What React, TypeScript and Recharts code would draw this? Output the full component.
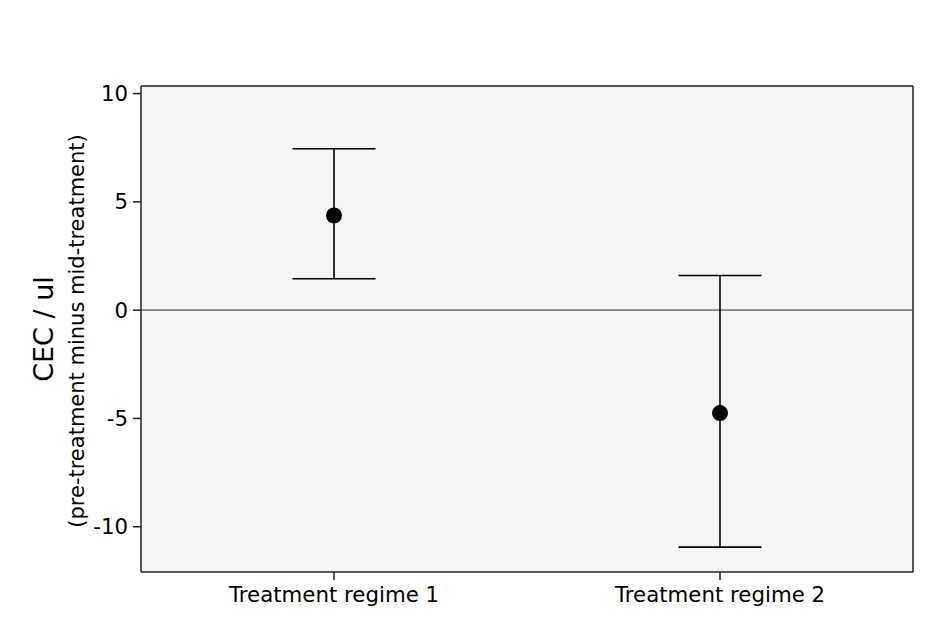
import React from 'react';
import {
  ComposedChart,
  Line,
  XAxis,
  YAxis,
  CartesianGrid,
  ErrorBar,
  ReferenceLine,
} from 'recharts';

const CATEGORIES = ['Treatment regime 1', 'Treatment regime 2'];
const MEANS = [4.37, -4.75];
const UPPER = [7.45, 1.6];
const LOWER = [1.45, -10.94];
const Y_TICKS = [-10, -5, 0, 5, 10];
const Y_DOMAIN = [-12.09, 10.35];

const FONT = '"DejaVu Sans", Verdana, sans-serif';

const data = CATEGORIES.map((name, i) => ({
  name,
  mean: MEANS[i],
  err: [MEANS[i] - LOWER[i], UPPER[i] - MEANS[i]],
}));

// two-line rotated title for the value axis
function AxisTitle(props: any) {
  const { viewBox } = props;
  const cy = viewBox.y + viewBox.height / 2;
  return (
    <g fontFamily={FONT} fill="#000">
      <text
        x={53}
        y={cy}
        fontSize={27}
        textAnchor="middle"
        transform={`rotate(-90 53 ${cy})`}
      >
        CEC / ul
      </text>
      <text
        x={84}
        y={cy + 2}
        fontSize={21}
        textAnchor="middle"
        transform={`rotate(-90 84 ${cy + 2})`}
      >
        (pre-treatment minus mid-treatment)
      </text>
    </g>
  );
}

export default function App() {
  const tickStyle = { fontSize: 21.3, fill: '#000', fontFamily: FONT };
  return (
    <div style={{ position: 'absolute', left: 0, top: 0, background: '#fff' }}>
      <ComposedChart
        width={948}
        height={632}
        data={data}
        margin={{ top: 86, right: 35, bottom: 20, left: 81 }}
      >
        <CartesianGrid fill="#f4f4f4" horizontal={false} vertical={false} />
        <XAxis
          dataKey="name"
          scale="band"
          height={40}
          stroke="#222"
          strokeWidth={1.5}
          tick={tickStyle}
          tickSize={8}
          tickMargin={7}
        />
        <YAxis
          type="number"
          domain={Y_DOMAIN}
          ticks={Y_TICKS}
          allowDataOverflow
          width={60}
          stroke="#222"
          strokeWidth={1.5}
          tick={tickStyle}
          tickSize={8}
          tickMargin={5}
          label={{ content: AxisTitle }}
        />
        {/* frame: top and right edges of the plot box */}
        <ReferenceLine y={Y_DOMAIN[1]} stroke="#222" strokeWidth={1.5} />
        <ReferenceLine
          x={CATEGORIES[CATEGORIES.length - 1]}
          position="end"
          stroke="#222"
          strokeWidth={1.5}
        />
        <ReferenceLine y={0} stroke="#555" strokeWidth={1.3} />
        <Line
          dataKey="mean"
          stroke="none"
          isAnimationActive={false}
          dot={{ r: 8, fill: '#000', stroke: 'none' }}
          activeDot={false}
        >
          <ErrorBar
            dataKey="err"
            direction="y"
            width={41.5}
            stroke="#000"
            strokeWidth={1.6}
            isAnimationActive={false}
          />
        </Line>
      </ComposedChart>
    </div>
  );
}
